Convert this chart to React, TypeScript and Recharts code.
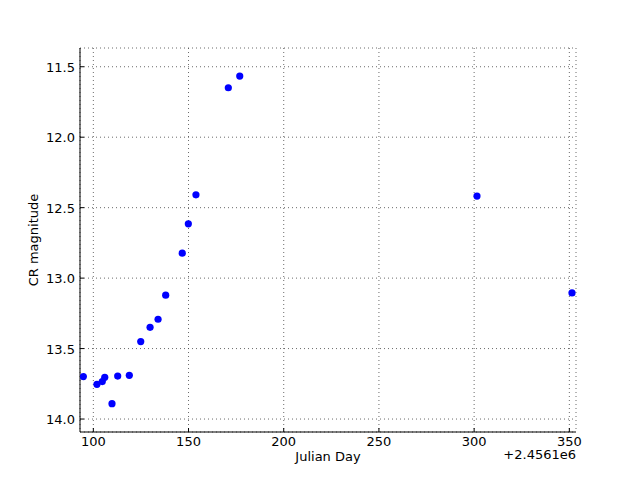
import React from "react";
import {
  ScatterChart,
  Scatter,
  XAxis,
  YAxis,
  CartesianGrid,
  Label,
} from "recharts";

// Julian day minus 2456100
const julianDay = [
  94.75, 101.9, 104.7, 106.0, 109.8, 112.8, 118.9, 124.9, 129.8, 134.0,
  138.0, 146.7, 149.9, 153.9, 170.9, 176.9, 301.5, 351.4,
];
const crMag = [
  13.699, 13.754, 13.734, 13.704, 13.891, 13.695, 13.69, 13.45, 13.349, 13.292,
  13.121, 12.823, 12.615, 12.409, 11.649, 11.566, 12.418, 13.105,
];
const xTicks = [100, 150, 200, 250, 300, 350];
const yTicks = [11.5, 12.0, 12.5, 13.0, 13.5, 14.0];

const FONT = "DejaVu Sans, sans-serif";

const data = julianDay.map((jd, i) => ({ jd, mag: crMag[i] }));

function BottomTick({ x, y, payload }: any) {
  return (
    <g>
      <line x1={x} y1={y} x2={x} y2={y - 4} stroke="#000" />
      <text x={x} y={y + 14} textAnchor="middle" fontSize={13} fontFamily={FONT} fill="#000">
        {payload.value}
      </text>
    </g>
  );
}

function TopTick({ x, y }: any) {
  return <line x1={x} y1={y} x2={x} y2={y + 4} stroke="#000" />;
}

function LeftTick({ x, y, payload }: any) {
  return (
    <g>
      <line x1={x} y1={y} x2={x + 4} y2={y} stroke="#000" />
      <text x={x - 5} y={y + 5} textAnchor="end" fontSize={13} fontFamily={FONT} fill="#000">
        {Number(payload.value).toFixed(1)}
      </text>
    </g>
  );
}

function RightTick({ x, y }: any) {
  return <line x1={x} y1={y} x2={x - 4} y2={y} stroke="#000" />;
}

function Dot({ cx, cy }: any) {
  return <circle cx={cx} cy={cy} r={3.6} fill="#0000ff" />;
}

export default function App() {
  return (
    <div style={{ position: "absolute", left: 0, top: 0, width: 640, height: 480, background: "#fff" }}>
      <ScatterChart
        width={640}
        height={480}
        margin={{ top: 48, right: 64, bottom: 18, left: 30 }}
      >
        <CartesianGrid stroke="#444" strokeDasharray="1 3" strokeWidth={0.8} />
        <XAxis
          xAxisId="top"
          orientation="top"
          type="number"
          dataKey="jd"
          domain={[93, 353.5]}
          ticks={xTicks}
          height={0}
          tickSize={0}
          tickMargin={0}
          tick={<TopTick />}
          axisLine={{ stroke: "#000" }}
          tickLine={false}
          allowDataOverflow
        />
        <YAxis
          yAxisId="right"
          orientation="right"
          type="number"
          dataKey="mag"
          domain={[11.367, 14.092]}
          reversed
          ticks={yTicks}
          width={0}
          tickSize={0}
          tickMargin={0}
          tick={<RightTick />}
          axisLine={{ stroke: "#000" }}
          tickLine={false}
          allowDataOverflow
        />
        <XAxis
          type="number"
          dataKey="jd"
          domain={[93, 353.5]}
          ticks={xTicks}
          height={30}
          tickSize={0}
          tickMargin={0}
          tick={<BottomTick />}
          axisLine={{ stroke: "#000" }}
          tickLine={false}
          allowDataOverflow
        >
          <Label
            content={() => (
              <text x={328} y={461} textAnchor="middle" fontSize={13} fontFamily={FONT} fill="#000">
                Julian Day
              </text>
            )}
          />
          <Label
            content={() => (
              <text x={576} y={459} textAnchor="end" fontSize={13} fontFamily={FONT} fill="#000">
                +2.4561e6
              </text>
            )}
          />
        </XAxis>
        <YAxis
          type="number"
          dataKey="mag"
          domain={[11.367, 14.092]}
          reversed
          ticks={yTicks}
          width={50}
          tickSize={0}
          tickMargin={0}
          tick={<LeftTick />}
          axisLine={{ stroke: "#000" }}
          tickLine={false}
          allowDataOverflow
        >
          <Label
            content={() => (
              <text
                x={38}
                y={240}
                textAnchor="middle"
                fontSize={13}
                fontFamily={FONT}
                fill="#000"
                transform="rotate(-90, 38, 240)"
              >
                CR magnitude
              </text>
            )}
          />
        </YAxis>
        <Scatter data={data} shape={<Dot />} isAnimationActive={false} />
      </ScatterChart>
    </div>
  );
}
